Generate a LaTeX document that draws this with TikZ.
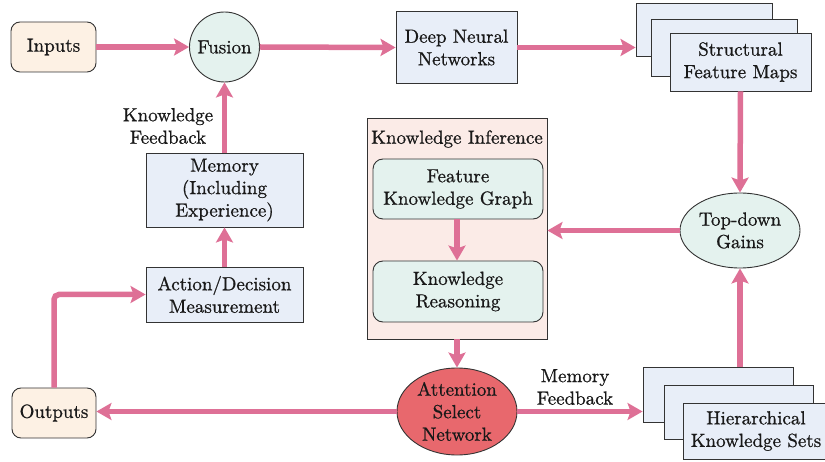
\documentclass[tikz,border=0pt]{standalone}
\usepackage{fontspec}
\setmainfont{lmroman10-regular}[Extension=.otf, FakeBold=0.8]
\usetikzlibrary{arrows.meta,shapes.geometric}
\definecolor{arrowpink}{HTML}{DE7096}
\definecolor{ioFill}{HTML}{FDF1E4}
\definecolor{greenFill}{HTML}{E4F2EE}
\definecolor{blueFill}{HTML}{E8EEF8}
\definecolor{kiFill}{HTML}{FBEBE7}
\definecolor{asnFill}{HTML}{E8686D}
\definecolor{edgeGray}{HTML}{333333}
\tikzset{
  every node/.style={font=\fontsize{19}{22.5}\selectfont, align=center, inner sep=0pt, text=black!90},
  conn/.style={draw=arrowpink, line width=5.5pt, -{Stealth[length=15pt,width=17pt,inset=3pt]}},
  iobox/.style={draw=edgeGray, line width=0.9pt, fill=ioFill, rounded corners=9pt},
  bluebox/.style={draw=edgeGray, line width=0.9pt, fill=blueFill},
  greenbox/.style={draw=edgeGray, line width=0.9pt, fill=greenFill, rounded corners=10pt},
  greenell/.style={draw=edgeGray, line width=0.9pt, fill=greenFill, ellipse},
}
\begin{document}
\begin{tikzpicture}[x=1pt,y=-1pt]
\useasboundingbox (0,0) rectangle (825,462);
% nodes
\node[iobox, minimum width=85pt, minimum height=50pt] (inp) at (53.5,47) {Inputs};
\node[draw=edgeGray, line width=0.9pt, fill=greenFill, circle, minimum size=70pt] (fus) at (224.5,47) {Fusion};
\node[bluebox, minimum width=121pt, minimum height=72pt] (dnn) at (456.5,47.5) {Deep Neural\\Networks};
\node[bluebox, minimum width=136pt, minimum height=53pt] (sfm1) at (704,29.5) {};
\node[bluebox, minimum width=146pt, minimum height=57pt] (sfm2) at (724,47.5) {};
\node[bluebox, minimum width=141pt, minimum height=58pt] (sfm3) at (740.5,62) {Structural\\Feature Maps};
\node[greenell, minimum width=120pt, minimum height=75pt] (tdg) at (740,230.5) {Top-down\\Gains};
\node[draw=edgeGray, line width=0.9pt, fill=kiFill, minimum width=180pt, minimum height=221pt] (ki) at (457,228.5) {};
\node (kit) at (457,139) {Knowledge Inference};
\node[greenbox, minimum width=170pt, minimum height=60pt] (fkg) at (458,189) {Feature\\Knowledge Graph};
\node[greenbox, minimum width=170pt, minimum height=61pt] (kr) at (458,291.5) {Knowledge\\Reasoning};
\node[draw=edgeGray, line width=0.9pt, fill=asnFill, ellipse, minimum width=120pt, minimum height=87pt] (asn) at (457,411.5) {Attention\\Select\\Network};
\node[iobox, minimum width=84pt, minimum height=50pt] (out) at (54,413) {Outputs};
\node[bluebox, minimum width=157pt, minimum height=55pt] (act) at (224.5,294.5) {Action/Decision\\Measurement};
\node[bluebox, minimum width=157pt, minimum height=74pt] (mem) at (224.5,190) {Memory\\(Including\\Experience)};
\node[bluebox, minimum width=150pt, minimum height=55pt] (hks1) at (718,394.5) {};
\node[bluebox, minimum width=149pt, minimum height=54pt] (hks2) at (738.5,412) {};
\node[bluebox, minimum width=152pt, minimum height=56pt] (hks3) at (759,431) {};
\node (hkst) at (756,431) {Hierarchical\\Knowledge Sets};
\node (kfb) at (168,126) {Knowledge\\Feedback};
\node (mfb) at (575,387) {Memory\\Feedback};
% connectors
\draw[conn] (inp.east) -- (fus.west);
\draw[conn] (fus.east) -- (dnn.west);
\draw[conn] (dnn.east) -- (dnn.east -| sfm1.west);
\draw[conn] (sfm3.south) -- (tdg.north);
\draw[conn] (tdg.west) -- (tdg.west -| ki.east);
\draw[conn] (fkg.south -| kit) -- (kr.north -| kit);
\draw[conn] (ki.south) -- (asn.north);
\draw[conn] (asn.west) -- (asn.west -| out.east);
\draw[conn] (asn.east) -- (asn.east -| hks1.west);
\draw[conn] (hks1.north -| tdg.south) -- (tdg.south);
\draw[conn, rounded corners=5pt] (out.north) |- (act.west);
\draw[conn] (act.north) -- (mem.south);
\draw[conn] (mem.north) -- (fus.south);
\end{tikzpicture}
\end{document}
